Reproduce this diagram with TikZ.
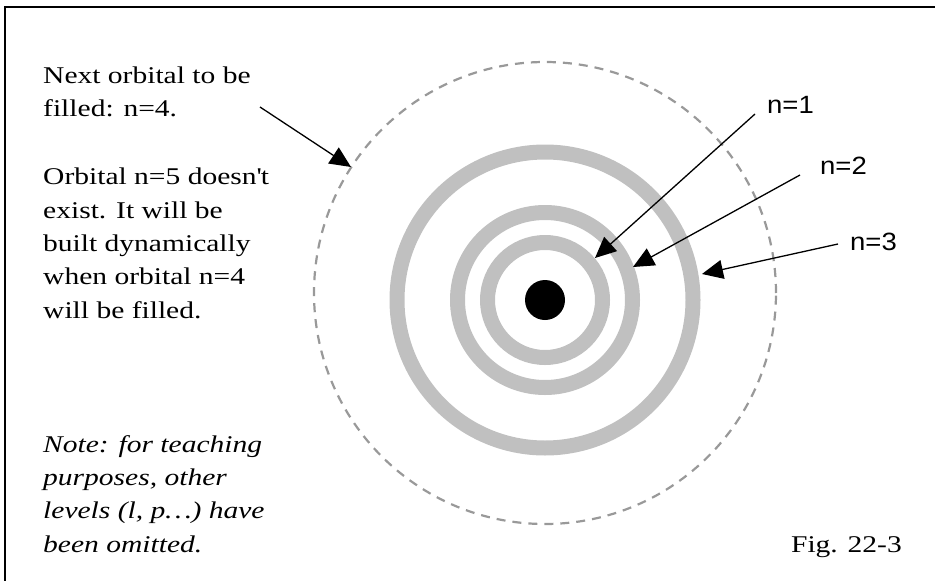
\documentclass[tikz,border=0pt]{standalone}
\usepackage{fontspec}
\setmainfont{Liberation Serif}[FakeStretch=1.23,Ligatures=ResetAll]
\newfontfamily\orbsans{Liberation Sans}[FakeStretch=1.1]
\usetikzlibrary{arrows.meta}
\definecolor{orbRing}{HTML}{C0C0C0}
\definecolor{orbDash}{HTML}{999999}
\tikzset{
  orb diagram/.style={x=1pt, y=-1pt},
  orb frame/.style={draw=black, line width=2pt},
  orb ring/.style={draw=orbRing, line width=15pt},
  orb next/.style={draw=orbDash, line width=2.2pt, dash pattern=on 9pt off 7pt},
  orb arrow/.style={-{Triangle[length=21pt,width=19pt]}, draw=black, line width=1.3pt},
  orb text/.style={font=\fontsize{24}{33.3}\selectfont, align=left,
    inner sep=0pt, anchor=base west},
  orb label/.style={font=\orbsans\fontsize{25}{30}\selectfont,
    inner sep=0pt, anchor=base west}
}
\begin{document}
\begin{tikzpicture}[orb diagram]
\useasboundingbox (0,0) rectangle (935,581);
\draw[orb frame] (5,595) -- (5,7) -- (945,7);
% atom
\coordinate (nucleus) at (545,300);
\draw[orb next] (545,293) circle[radius=231pt];
\foreach \r in {57.5,87.5,148}
  \draw[orb ring] (nucleus) circle[radius=\r pt];
\fill[black] (nucleus) circle[radius=20pt];
% texts (anchored on their last line)
\node[orb text] (next) at (43,116.7) {Next orbital to be\\filled: n=4.};
\node[orb text] (absent) at (43,318) {Orbital n=5 doesn\textquotesingle t\\exist. It will be\\built dynamically\\when orbital n=4\\will be filled.};
\node[orb text, font=\fontsize{24}{33.3}\selectfont\itshape] (note) at (43,552)
  {Note: for teaching\\purposes, other\\levels (l, p…) have\\been omitted.};
\node[orb text, anchor=base east] (fig) at (902,552) {Fig. 22-3};
\node[orb label] (n1) at (767,113) {n=1};
\node[orb label] (n2) at (820,174) {n=2};
\node[orb label] (n3) at (850,250) {n=3};
% arrows
\coordinate (t4) at (260,107);
\coordinate (h4) at (351,167);
\coordinate (t1) at (755,114);
\coordinate (h1) at (595,258);
\coordinate (t2) at (800,175);
\coordinate (h2) at (633,267);
\coordinate (t3) at (838,244);
\coordinate (h3) at (702,274);
\draw[orb arrow] (t4) -- (h4);
\draw[orb arrow] (t1) -- (h1);
\draw[orb arrow] (t2) -- (h2);
\draw[orb arrow] (t3) -- (h3);
\end{tikzpicture}
\end{document}
